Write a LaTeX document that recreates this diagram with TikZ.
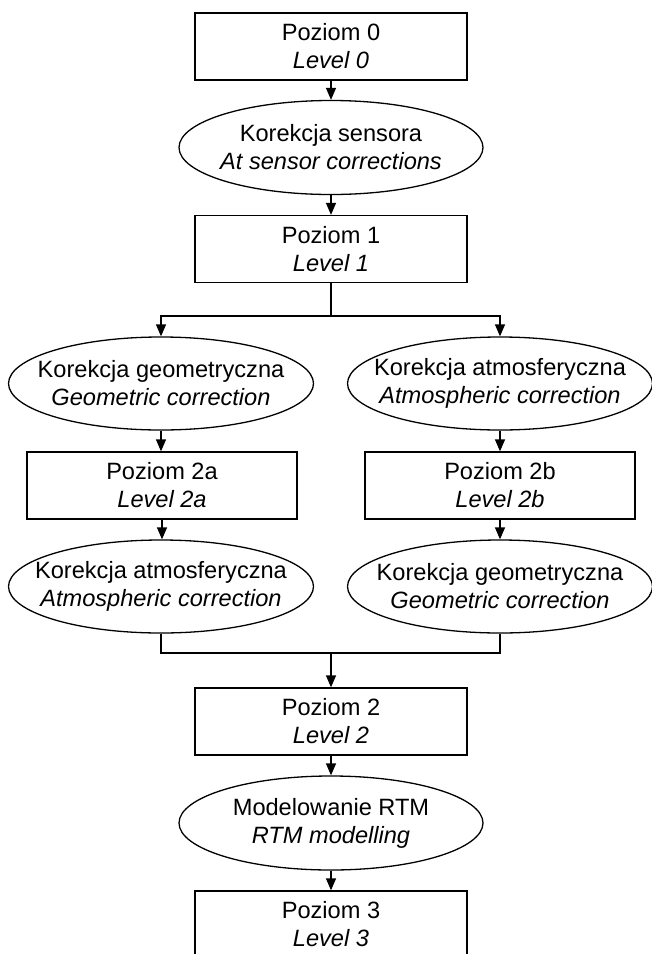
\documentclass[tikz,border=0pt]{standalone}
\usepackage{fontspec}
\setmainfont{Liberation Sans}
\usetikzlibrary{shapes.geometric,arrows.meta}
\begin{document}
\begin{tikzpicture}[x=1pt,y=-1pt,
  every node/.style={font=\fontsize{23.6}{28}\selectfont, align=center, inner sep=0pt},
  stage/.style={draw, line width=1.3pt, rectangle, minimum width=272pt, minimum height=67pt},
  substage/.style={stage, minimum width=270pt},
  proc/.style={draw, line width=1.3pt, ellipse, inner xsep=-40pt, inner ysep=-20pt,
               minimum width=304pt, minimum height=94pt},
  wideproc/.style={proc, minimum width=305pt, minimum height=93pt},
  link/.style={line width=1.3pt},
  arr/.style={link, -{Triangle[width=10pt,length=12pt]}}]
\useasboundingbox (0,0) rectangle (652,954);
\clip (0,0) rectangle (652,954);
\fill[white] (0,0) rectangle (652,954);

% main column
\node[stage] (b0) at (331,46.5) {Poziom 0\\\textit{Level 0}};
\node[proc]  (e0) at (331,147.5) {Korekcja sensora\\\textit{At sensor corrections}};
\node[stage] (b1) at (331,249) {Poziom 1\\\textit{Level 1}};

% two branches
\node[wideproc] (e1a) at (161,383.5) {Korekcja geometryczna\\\textit{Geometric correction}};
\node[wideproc] (e1b) at (500,383.5) {Korekcja atmosferyczna\\\textit{Atmospheric correction}};
\node[substage] (b2a) at (162,485.5) {Poziom 2a\\\textit{Level 2a}};
\node[substage] (b2b) at (500,485.5) {Poziom 2b\\\textit{Level 2b}};
\node[wideproc] (e2a) at (161,586.5) {Korekcja atmosferyczna\\\textit{Atmospheric correction}};
\node[wideproc] (e2b) at (500,586.5) {Korekcja geometryczna\\\textit{Geometric correction}};

% joined column
\node[stage] (b2) at (331,721.5) {Poziom 2\\\textit{Level 2}};
\node[proc]  (e3) at (331,823) {Modelowanie RTM\\\textit{RTM modelling}};
\node[stage] (b3) at (331,924.5) {Poziom 3\\\textit{Level 3}};

\coordinate (split) at (331,316);
\coordinate (merge) at (331,653);

% connectors
\draw[arr] (b0) -- (e0);
\draw[arr] (e0) -- (b1);
\draw[link] (b1) -- (split);
\draw[arr] (split) -| (e1a.north);
\draw[arr] (split) -| (e1b.north);
\draw[arr] (e1a) -- (e1a |- b2a.north);
\draw[arr] (e1b) -- (b2b);
\draw[arr] (b2a) -- (b2a |- e2a.north);
\draw[arr] (b2b) -- (e2b);
\draw[link] (e2a.south) |- (merge);
\draw[link] (e2b.south) |- (merge);
\draw[arr] (merge) -- (b2);
\draw[arr] (b2) -- (e3);
\draw[arr] (e3) -- (b3);
\end{tikzpicture}
\end{document}
